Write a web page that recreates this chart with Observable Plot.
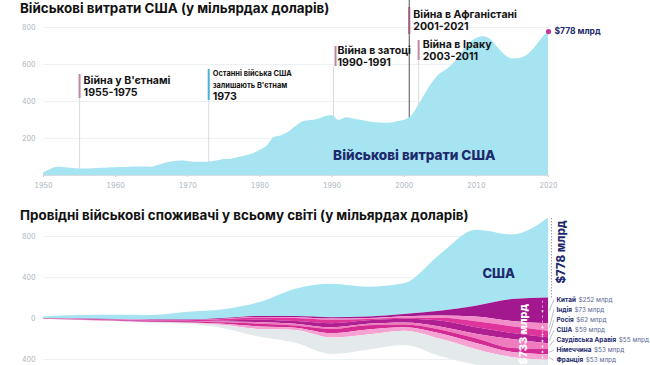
<!DOCTYPE html>
<html><head><meta charset="utf-8">
<script src="https://cdn.jsdelivr.net/npm/d3@7"></script>
<script src="https://cdn.jsdelivr.net/npm/@observablehq/plot@0.6"></script>
<style>
html,body{margin:0;padding:0;background:#fff;width:650px;height:365px;overflow:hidden;font-family:Inter,"Noto Sans",sans-serif;}
#wrap{position:relative;width:650px;height:365px;}
.title{position:absolute;left:20px;font-weight:700;font-size:13.4px;color:#111;white-space:nowrap;z-index:2;line-height:16px;}
.chart{position:absolute;left:0;z-index:1;}
</style></head><body>
<div id="wrap">
<div class="title" style="top:0px">Військові витрати США (у мільярдах доларів)</div>
<div class="title" style="top:207px">Провідні військові споживачі у всьому світі (у мільярдах доларів)</div>
<div id="topChart" class="chart" style="top:0px"></div>
<div id="bottomChart" class="chart" style="top:222px"></div>
</div>
<script>
// ---------- DATA ----------
const usYears = d3.range(1950, 2021);
const usSpending = [14,33,44,42,38,35,35,37,39,41,
  42,43,45,46,46,45,55,68,75,78,
  76,72,72,73,78,86,88,97,106,116,
  135,160,205,215,235,265,290,297,303,318,
  325,298,312,305,298,290,285,283,282,290,
  298,320,378,445,505,550,575,612,662,712,
  740,750,735,690,650,630,632,648,685,735,
  778];
const xTicks = [1950,1960,1970,1980,1990,2000,2010,2020];
const topYTicks = [200,400,600,800];
const bottomYTicks = [-400,0,400,800];

const eventNames = ["Війна у В'єтнамі","Останні війська США","Війна в затоці","Війна в Афганістані","Війна в Іраку"];
const eventSub = ["", "залишають В'єтнам", "", "", ""];
const eventPeriods = ["1955-1975","1973","1990-1991","2001-2021","2003-2011"];

const streamYears = [1950,1955,1960,1965,1970,1975,1980,1985,1990,1995,2000,2005,2010,2015,2020];
const countries = ["Китай","Індія","Росія","США","Саудівська Аравія","Німеччина","Франція"];
const values2020 = ["$252 млрд","$73 млрд","$62 млрд","$59 млрд","$55 млрд","$53 млрд","$53 млрд"];
const china   = [1,2,3,4,5,7,10,12,14,16,23,45,105,214,252];
const india   = [1,1,1,2,2,3,4,7,10,9,15,23,46,51,73];
const russia  = [2,3,4,6,8,14,22,30,35,13,9,27,59,66,62];
const uk      = [2,4,5,6,6,11,25,26,40,34,36,57,63,59,59];
const saudi   = [0,0,0,0,1,6,15,18,16,14,20,29,45,87,55];
const germany = [1,2,3,5,6,15,26,22,42,41,28,38,46,39,53];
const france  = [1,2,3,4,6,13,26,22,42,48,33,52,61,51,53];
const rest    = [0,1,2,4,8,30,75,125,160,150,140,170,150,125,126];
const streamOffset = [0,-5,-10,-15,-15,0,20,20,8,15,40,70,120,185,200]; // boundary between US and others
const usTotal = "$778 млрд", othersTotal = "$733 млрд";

(function(){
// ---------- STYLE ----------
const navy = "#1d2a6c", tickGray = "#aab4be", gridCol = "#edf1f4", cyan = "#a7e4f1";
const font = "Inter, 'Noto Sans', sans-serif";

// ---------- TOP CHART ----------
const usData = usYears.map((y,i)=>({year:y, value:usSpending[i]}));
const pv = py => (175 - py) / 148 * 800;           // pixel row -> value (top chart)
const ev = [
  {x:1955,   bar:[74,98],  l1:80, l2:92, lineTop:98, rule:"#d4d8df", barc:"#b98aa3"},
  {x:1972.9, bar:[69,100], l1:73, l1b:85, l2:96, lineTop:100, rule:"#d4d8df", barc:"#48b2d2"},
  {x:1990.2, bar:[46,66],  l1:50.5, l2:62, lineTop:66, rule:"#d4d8df", barc:"#b98aa3"},
  {x:2000.7, bar:[7,34],   l1:14, l2:26, lineTop:0, rule:"#3c3c44", barc:"#a05a7c"},
  {x:2002,   bar:[40,60],  l1:44.5, l2:56, lineTop:60, rule:"#d4d8df", barc:"#b98aa3"}
];
const evRows = ev.map((e,i)=>Object.assign({}, e, {name:eventNames[i], sub:eventSub[i], period:eventPeriods[i], i:i}));
const evSize = 10.6, evSmall = 7.4;

const topMarks = [
  Plot.gridY(topYTicks, {stroke:gridCol, strokeOpacity:1}),
  ...evRows.map(e => Plot.ruleX([e], {x:"x", y1:0, y2:pv(e.lineTop), stroke:e.rule, strokeWidth:0.9})),
  Plot.areaY(usData, {x:"year", y:"value", fill:cyan, curve:"monotone-x"}),
  Plot.ruleY([0], {stroke:"#cbd3da", strokeWidth:0.8}),
  ...evRows.map(e => Plot.ruleX([e], {x:"x", y1:pv(e.bar[1]), y2:pv(e.bar[0]), stroke:e.barc, strokeWidth:2, dx: e.i===2?2:0})),
  ...evRows.map(e => Plot.text([e], {x:"x", y:pv(e.l1), text:"name", dx:4, textAnchor:"start",
      fontSize: e.i===1?evSmall:evSize, fontWeight:700, fill:"#151515", fontFamily:font})),
  Plot.text(evRows.filter(e=>e.sub), {x:"x", y:d=>pv(d.l1b), text:"sub", dx:4, textAnchor:"start", fontSize:evSmall, fontWeight:700, fill:"#151515", fontFamily:font}),
  ...evRows.map(e => Plot.text([e], {x:"x", y:pv(e.l2), text:"period", dx:4, textAnchor:"start",
      fontSize:evSize, fontWeight:700, fill:"#151515", fontFamily:font})),
  Plot.text(["Військові витрати США"], {x:2001.4, y:108, fontSize:13.6, fontWeight:800, fill:navy, fontFamily:font}),
  Plot.dot([usData[usData.length-1]], {x:"year", y:"value", r:2.6, fill:"#c2369e"}),
  Plot.text([usData[usData.length-1]], {x:"year", y:"value", text:()=>usTotal, dx:6, textAnchor:"start", fontSize:8.5, fontWeight:700, fill:navy, fontFamily:font}),
  Plot.axisX({ticks:xTicks, tickFormat:d=>String(d), tickSize:2, tickPadding:6, fontSize:7, fill:tickGray, stroke:"#cbd3da", fontFamily:font, label:null}),
  Plot.axisY({ticks:topYTicks, tickSize:0, tickPadding:8, fontSize:7, fill:tickGray, fontFamily:font, label:null})
];

const topPlot = Plot.plot({
  width:650, height:195, marginLeft:43, marginRight:102, marginTop:27, marginBottom:20,
  style:{background:"transparent", overflow:"visible", fontFamily:font},
  x:{domain:[1950,2020]}, y:{domain:[0,800]},
  marks: topMarks
});
document.getElementById("topChart").appendChild(topPlot);

// ---------- BOTTOM CHART ----------
const layerKeys = ["US", ...countries.map((c,i)=>"c"+i), "rest"];
const layerColors = [cyan, "#a3188f", "#f28dc9", "#e0349d", "#b01f92", "#f07cc0", "#d32a94", "#f6a2d2", "#e4e9ec"];
const layerVals = [china, india, russia, uk, saudi, germany, france, rest];
const rows = [];
const mids2020 = [];
streamYears.forEach((yr, i) => {
  const base = streamOffset[i];
  const us = usSpending[yr - 1950];
  rows.push({year:yr, key:"US", y1:base, y2:base + us});
  let cur = base;
  layerVals.forEach((arr, k) => {
    const v = arr[i];
    rows.push({year:yr, key:layerKeys[k+1], y1:cur - v, y2:cur});
    if (yr === 2020) mids2020.push(cur - v/2);
    cur -= v;
  });
});
const last = streamYears.length - 1;
const base20 = streamOffset[last];
const us20 = usSpending[usSpending.length-1];
const others20 = layerVals.reduce((s,a)=>s+a[last],0);

const lblSize = 6.4;
const labelRows = countries.map((c,i)=>({name:c, value:values2020[i], y:185 - i*99, mid:mids2020[i]}));
const ctx = document.createElement("canvas").getContext("2d");
ctx.font = `700 ${lblSize}px Inter, 'Noto Sans', sans-serif`;
labelRows.forEach(d => d.w = ctx.measureText(d.name).width);

const bottomPlot = Plot.plot({
  width:650, height:143, marginLeft:43, marginRight:102, marginTop:0, marginBottom:0,
  style:{background:"transparent", overflow:"visible", fontFamily:font},
  x:{domain:[1950,2020], axis:null},
  y:{domain:[-400,800], range:[137,14], axis:null},
  color:{domain:layerKeys, range:layerColors},
  marks:[
    Plot.gridY(bottomYTicks, {stroke:gridCol, strokeOpacity:1}),
    Plot.areaY(rows, {x:"year", y1:"y1", y2:"y2", z:"key", fill:"key", curve:"monotone-x"}),
    Plot.axisY({ticks:bottomYTicks, tickFormat:d=>String(Math.abs(d)), tickSize:0, tickPadding:8, fontSize:7, fill:tickGray, fontFamily:font, label:null}),
    Plot.ruleX([2020], {y1:base20, y2:base20+us20, dx:3, stroke:"#7d88a0", strokeWidth:0.8, strokeDasharray:"1.5,1.5"}),
    Plot.text([usTotal], {x:2020, y:base20+us20/2+60, dx:13, rotate:-90, fontSize:11.5, fontWeight:800, fill:navy, fontFamily:font}),
    Plot.text(["США"], {x:2013.1, y:439, fontSize:13, fontWeight:800, fill:navy, fontFamily:font}),
    Plot.ruleX([2020], {y1:base20-others20, y2:base20, dx:-6, stroke:"white", strokeOpacity:0.8, strokeWidth:0.8, strokeDasharray:"2,3"}),
    Plot.dot(mids2020, {x:2020, y:d=>d, dx:-6, r:1, fill:"white", fillOpacity:0.9}),
    Plot.text([othersTotal], {x:2020, y:base20-others20/2+12, dx:-25, rotate:-90, fontSize:11, fontWeight:800, fill:"white", fontFamily:font}),
    Plot.link(labelRows, {x1:2020.1, y1:"mid", x2:2020.75, y2:"y", stroke:"#8a94a6", strokeWidth:0.6}),
    Plot.text(labelRows, {x:2020, y:"y", text:"name", dx:8, textAnchor:"start", fontSize:lblSize, fontWeight:700, fill:navy, fontFamily:font}),
    ...labelRows.map(d => Plot.text([d], {x:2020, y:"y", text:"value", dx:8 + d.w + 2.5, textAnchor:"start", fontSize:lblSize, fill:"#5c6894", fontFamily:font}))
  ]
});
document.getElementById("bottomChart").appendChild(bottomPlot);
})();
</script>
</body></html>
